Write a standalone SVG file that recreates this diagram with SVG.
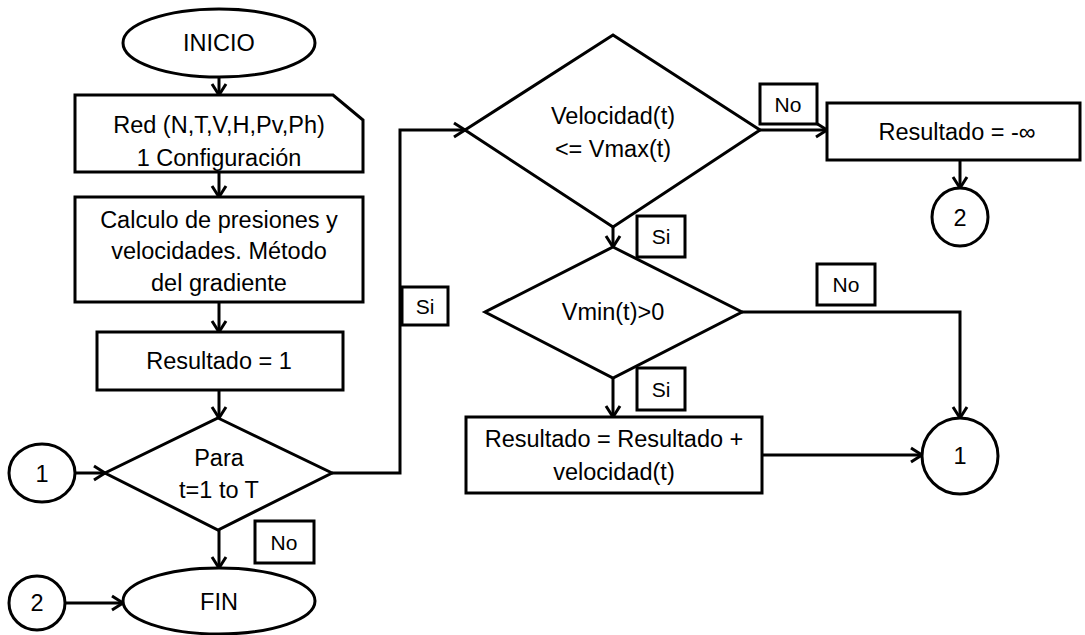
<svg xmlns="http://www.w3.org/2000/svg" width="1085" height="635" viewBox="0 0 1085 635">
<style>
.s{fill:#fff;stroke:#000;stroke-width:3}
.c{fill:none;stroke:#000;stroke-width:3}
text{font-family:"Liberation Sans",Arial,sans-serif;font-size:23.5px;fill:#000;text-anchor:middle}
.l{font-size:21px}
</style>
<defs>
<marker id="a" markerUnits="userSpaceOnUse" markerWidth="16" markerHeight="18" viewBox="0 0 16 18" refX="14" refY="9" orient="auto">
<path d="M3,2 L14,9 L3,16" fill="none" stroke="#000" stroke-width="3"/>
</marker>
</defs>
<rect width="1085" height="635" fill="#fff"/>
<g id="connectors" class="c">
<path d="M219,77 V95" marker-end="url(#a)"/>
<path d="M219,172 V197" marker-end="url(#a)"/>
<path d="M219,302 V332" marker-end="url(#a)"/>
<path d="M219,390 V418" marker-end="url(#a)"/>
<path d="M75,473 H105" marker-end="url(#a)"/>
<path d="M219,530 V568" marker-end="url(#a)"/>
<path d="M65,603 H123" marker-end="url(#a)"/>
<path d="M332,473 H400 V130 H465" marker-end="url(#a)"/>
<path d="M613,227 V247" marker-end="url(#a)"/>
<path d="M760,130 H827" marker-end="url(#a)"/>
<path d="M960,160 V188" marker-end="url(#a)"/>
<path d="M613,378 V417" marker-end="url(#a)"/>
<path d="M742,312 H960 V418" marker-end="url(#a)"/>
<path d="M762,455 H922" marker-end="url(#a)"/>
</g>
<g id="inicio"><ellipse class="s" cx="219" cy="43" rx="96" ry="34"/><text x="219" y="51">INICIO</text></g>
<g id="red"><path class="s" d="M75,95 H333 L363,120 V172 H75 Z"/><text x="219" y="133">Red  (N,T,V,H,Pv,Ph)</text><text x="219" y="166">1 Configuración</text></g>
<g id="calculo"><rect class="s" x="75" y="197" width="288" height="105"/><text x="219" y="228">Calculo de presiones y</text><text x="219" y="259">velocidades. Método</text><text x="219" y="291">del gradiente</text></g>
<g id="resultado1"><rect class="s" x="97" y="332" width="246" height="58"/><text x="219" y="369">Resultado = 1</text></g>
<g id="para"><path class="s" d="M218,418 L332,473 L218,530 L105,473 Z"/><text x="219" y="466">Para</text><text x="219" y="498">t=1 to T</text></g>
<g id="c1left"><ellipse class="s" cx="42" cy="473" rx="33" ry="29"/><text x="42" y="482">1</text></g>
<g id="noPara"><rect class="s" x="255" y="521" width="59" height="42"/><text class="l" x="284" y="550">No</text></g>
<g id="fin"><ellipse class="s" cx="219" cy="601" rx="96" ry="33"/><text x="219" y="610">FIN</text></g>
<g id="c2left"><ellipse class="s" cx="37" cy="603" rx="28" ry="27"/><text x="37" y="611">2</text></g>
<g id="siLeft"><rect class="s" x="402" y="287" width="46" height="38"/><text class="l" x="425" y="314">Si</text></g>
<g id="velocidad"><path class="s" d="M613,35 L760,130 L613,227 L465,130 Z"/><text x="613" y="124">Velocidad(t)</text><text x="613" y="157">&lt;=  Vmax(t)</text></g>
<g id="noVel"><rect class="s" x="760" y="84" width="57" height="40"/><text class="l" x="788" y="112">No</text></g>
<g id="resInf"><rect class="s" x="827" y="103" width="253" height="57"/><text x="957" y="140">Resultado = -∞</text></g>
<g id="c2right"><ellipse class="s" cx="960" cy="217" rx="28" ry="29"/><text x="960" y="226">2</text></g>
<g id="siVel"><rect class="s" x="637" y="216" width="48" height="41"/><text class="l" x="661" y="244">Si</text></g>
<g id="vmin"><path class="s" d="M613,247 L742,312 L613,378 L485,312 Z"/><text x="613" y="320">Vmin(t)&gt;0</text></g>
<g id="noVmin"><rect class="s" x="817" y="264" width="58" height="41"/><text class="l" x="846" y="292">No</text></g>
<g id="siVmin"><rect class="s" x="637" y="368" width="48" height="42"/><text class="l" x="661" y="397">Si</text></g>
<g id="resSum"><rect class="s" x="466" y="417" width="296" height="76"/><text x="614" y="447">Resultado = Resultado +</text><text x="614" y="480">velocidad(t)</text></g>
<g id="c1right"><circle class="s" cx="960" cy="456" r="38"/><text x="960" y="464">1</text></g>
</svg>
